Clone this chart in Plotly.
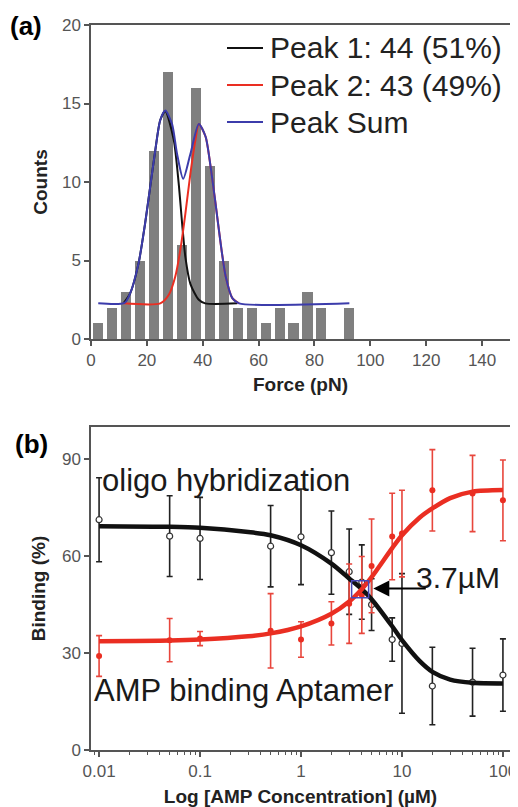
import plotly.graph_objects as go

# ---------------- Panel (a): force histogram ----------------
force_bins = [2.5, 7.5, 12.5, 17.5, 22.5, 27.5, 32.5, 37.5, 42.5, 47.5,
              52.5, 57.5, 62.5, 67.5, 72.5, 77.5, 82.5, 87.5, 92.5]
force_counts = [1, 2, 3, 5, 12, 17, 6, 16, 11, 5,
                2, 2, 1, 2, 1, 3, 2, 0, 2]

peak1_x = [11.6, 14.0, 17.0, 19.4, 21.2, 23.0, 24.8, 26.6, 29.6, 31.4, 32.6, 33.8, 35.6, 38.6, 40.9, 52.4]
peak1_y = [2.27, 2.9, 4.8, 7.4, 9.7, 12.0, 13.95, 14.5, 12.7, 9.9, 7.4, 5.2, 3.5, 2.5, 2.27, 2.27]

peak2_x = [11.6, 24.8, 27.8, 30.2, 32.0, 33.8, 35.6, 37.4, 38.6, 41.0, 42.8, 44.6, 46.4, 48.2, 50.6, 53.0]
peak2_y = [2.27, 2.27, 2.8, 4.0, 5.7, 8.0, 10.55, 12.7, 13.7, 12.9, 11.0, 8.6, 6.1, 4.0, 2.6, 2.27]

sum_x = [2.6, 12.0, 14.0, 17.0, 19.4, 21.2, 23.0, 24.8, 26.6, 29.0, 30.8, 33.0, 35.6, 38.6,
         41.0, 42.8, 44.6, 46.4, 48.2, 50.6, 53.0, 92.5]
sum_y = [2.27, 2.3, 2.9, 4.8, 7.4, 9.7, 12.0, 13.95, 14.55, 13.7, 11.8, 10.2, 11.8, 13.7,
         12.9, 11.0, 8.6, 6.1, 4.0, 2.6, 2.27, 2.27]

legend_names = ["Peak 1: 44 (51%)", "Peak 2: 43 (49%)", "Peak Sum"]

# ---------------- Panel (b): binding curves ----------------
conc = [0.01, 0.05, 0.1, 0.5, 1, 2, 3, 4, 5, 8, 10, 20, 50, 100]
oligo_y = [71.3, 66.2, 65.5, 63.1, 66.0, 61.1, 55.2, 52.0, 45.0, 34.2, 33.0, 19.8, 21.0, 23.2]
oligo_err = [13.0, 12.5, 12.7, 12.6, 14.8, 12.9, 13.2, 11.5, 8.0, 6.7, 21.6, 12.0, 10.5, 11.2]
apt_y = [29.1, 34.0, 34.5, 36.9, 34.2, 39.2, 45.3, 48.0, 57.0, 66.1, 67.0, 80.4, 79.4, 77.3]
apt_err = [6.3, 6.7, 2.2, 11.5, 5.5, 6.7, 12.3, 11.9, 14.5, 13.4, 13.4, 12.6, 11.8, 12.5]

fit_x = [0.01, 0.05, 0.1, 0.3, 0.5, 1, 2, 3, 4, 5, 8, 10, 15, 20, 30, 50, 100]
oligo_fit = [69.3, 69.1, 68.8, 67.5, 66.5, 63.4, 57.7, 53.1, 49.8, 46.7, 38.3, 34.0, 27.5, 24.2, 21.8, 20.8, 20.6]
apt_fit = [33.7, 33.9, 34.2, 35.2, 36.1, 38.3, 42.2, 46.0, 49.8, 53.5, 62.5, 66.5, 72.0, 74.8, 78.0, 80.0, 80.5]

ec50_x = [3.85]
ec50_y = [49.8]
ec50_label = "3.7µM"

log_ticks = [0.01, 0.1, 1, 10, 100]
log_ticktext = ["0.01", "0.1", "1", "10", "100"]

# ---------------- figure ----------------
# The page body has an 8px margin, so the figure is 8px smaller and all
# reference pixel positions below are converted through px()/py().
W, H = 510, 799
ML, MR, MT, MB = 83, 8, 17, 57
REF_L, REF_R, REF_T, REF_B = 91, 510, 25, 750


def px(x):
    return (x - REF_L) / (REF_R - REF_L)


def py(y):
    return (REF_B - y) / (REF_B - REF_T)


FONT = "Arial, 'Liberation Sans', sans-serif"
AX = "#555555"
BLACK = "#111111"
RED = "#ea2e22"
BLUE = "#3c3cab"
curve_colors = [BLACK, RED, BLUE]

fig = go.Figure()

fig.add_trace(go.Bar(x=force_bins, y=force_counts, width=3.6,
                     marker=dict(color="#7f7f7f", line=dict(width=0)),
                     showlegend=False, xaxis="x", yaxis="y"))
for nm, xs, ys, col in zip(legend_names, [peak1_x, peak2_x, sum_x], [peak1_y, peak2_y, sum_y], curve_colors):
    fig.add_trace(go.Scatter(x=xs, y=ys, mode="lines", name=nm, showlegend=False,
                             line=dict(color=col, width=2, shape="spline", smoothing=0.7),
                             xaxis="x", yaxis="y"))

# panel b points with error bars
fig.add_trace(go.Scatter(x=conc, y=oligo_y, mode="markers", showlegend=False,
                         marker=dict(symbol="circle", size=6, color="white",
                                     line=dict(color="#333333", width=1.2)),
                         error_y=dict(type="data", array=oligo_err, visible=True,
                                      color="#222222", thickness=1.6, width=3),
                         xaxis="x2", yaxis="y2"))
fig.add_trace(go.Scatter(x=conc, y=apt_y, mode="markers", showlegend=False,
                         marker=dict(symbol="circle", size=6, color=RED),
                         error_y=dict(type="data", array=apt_err, visible=True,
                                      color="#e8463c", thickness=1.6, width=3),
                         xaxis="x2", yaxis="y2"))
fig.add_trace(go.Scatter(x=fit_x, y=oligo_fit, mode="lines", showlegend=False,
                         line=dict(color=BLACK, width=4.5, shape="spline", smoothing=0.8),
                         xaxis="x2", yaxis="y2"))
fig.add_trace(go.Scatter(x=fit_x, y=apt_fit, mode="lines", showlegend=False,
                         line=dict(color=RED, width=4.5, shape="spline", smoothing=0.8),
                         xaxis="x2", yaxis="y2"))
fig.add_trace(go.Scatter(x=ec50_x, y=ec50_y, mode="markers", showlegend=False,
                         marker=dict(symbol="square-open", size=17, color="#4848b8",
                                     line=dict(width=1.5)),
                         xaxis="x2", yaxis="y2"))

axis_common = dict(showline=True, linecolor=AX, linewidth=1.5, mirror=True,
                   ticks="outside", ticklen=5, tickwidth=1.5, tickcolor=AX,
                   tickfont=dict(family=FONT, size=17, color="#555555"),
                   showgrid=False, zeroline=False, automargin=False)
title_font = dict(family=FONT, size=19, color="#222222")

fig.update_layout(
    width=W, height=H,
    margin=dict(l=ML, r=MR, t=MT, b=MB, autoexpand=False),
    paper_bgcolor="white", plot_bgcolor="white",
    bargap=0,
    showlegend=False,
    xaxis=dict(domain=[0, 1], range=[0, 150], tickvals=[0, 20, 40, 60, 80, 100, 120, 140],
               anchor="y",
               title=dict(text="<b>Force (pN)</b>", font=title_font, standoff=9),
               **axis_common),
    yaxis=dict(domain=[py(339), 1], range=[0, 20], tickvals=[0, 5, 10, 15, 20],
               anchor="x",
               title=dict(text="<b>Counts</b>", font=title_font, standoff=9),
               **axis_common),
    xaxis2=dict(domain=[0, 1], type="log", range=[-2.08, 2.07],
                tickvals=log_ticks, ticktext=log_ticktext, anchor="y2",
                minor=dict(ticks="outside", ticklen=3, tickwidth=1, tickcolor=AX,
                           dtick="D1", showgrid=False),
                title=dict(text="<b>Log [AMP Concentration] (µM)</b>", font=title_font, standoff=12),
                **axis_common),
    yaxis2=dict(domain=[0, py(427)], range=[0, 100], tickvals=[0, 30, 60, 90],
                anchor="x2",
                title=dict(text="<b>Binding (%)</b>", font=title_font, standoff=11),
                **axis_common),
)

# legend for panel (a), laid out like the original
leg_rows = [48, 85, 122]
for nm, col, ry in zip(legend_names, curve_colors, leg_rows):
    fig.add_shape(type="line", xref="paper", yref="paper",
                  x0=px(227), x1=px(263), y0=py(ry), y1=py(ry),
                  line=dict(color=col, width=2))
    fig.add_annotation(text=nm, xref="paper", yref="paper", x=px(268), y=py(ry),
                       xanchor="left", yanchor="middle", showarrow=False,
                       font=dict(family=FONT, size=30, color="#222222"))

ann_font = dict(family=FONT, size=31, color="#1a1a1a")
fig.add_annotation(text="<b>(a)</b>", xref="paper", yref="paper", x=px(26), y=py(26),
                   xanchor="center", yanchor="middle",
                   showarrow=False, font=dict(family=FONT, size=26, color="black"))
fig.add_annotation(text="<b>(b)</b>", xref="paper", yref="paper", x=px(31), y=py(444),
                   xanchor="center", yanchor="middle",
                   showarrow=False, font=dict(family=FONT, size=26, color="black"))
fig.add_annotation(text="oligo hybridization", xref="x2", yref="y2",
                   x=-1.99, y=83.5, xanchor="left", yanchor="middle",
                   showarrow=False, font=ann_font)
fig.add_annotation(text="AMP binding Aptamer", xref="x2", yref="y2",
                   x=-2.07, y=18.5, xanchor="left", yanchor="middle",
                   showarrow=False, font=ann_font)
fig.add_annotation(text=ec50_label, xref="x2", yref="y2",
                   x=1.12, y=53.5, xanchor="left", yanchor="middle",
                   showarrow=False, font=dict(family=FONT, size=30, color="#1a1a1a"))
fig.add_annotation(text="", xref="x2", yref="y2", x=0.716, y=50,
                   ax=54, ay=0, axref="pixel", ayref="pixel",
                   showarrow=True, arrowhead=2, arrowsize=1.6, arrowwidth=2,
                   arrowcolor="black", standoff=0)

fig.write_html("out.html")
